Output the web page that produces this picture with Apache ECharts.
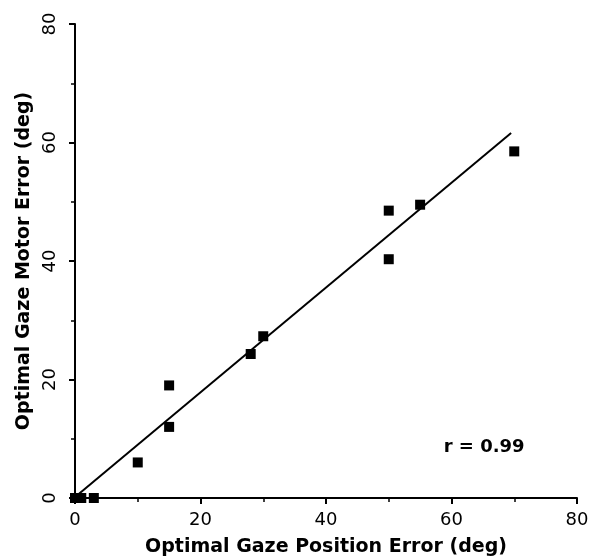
<!DOCTYPE html>
<html>
<head>
<meta charset="utf-8">
<script src="https://cdn.jsdelivr.net/npm/echarts@6/dist/echarts.min.js"></script>
<style>
  html, body { margin: 0; padding: 0; background: #fff; }
  #chart { width: 592px; height: 557px; }
</style>
</head>
<body>
<div id="chart"></div>
<script>
// Optimal gaze position error vs optimal gaze motor error (degrees)
const positionError = [0, 1, 3, 10, 15, 15, 28, 30, 50, 50, 55, 70];
const motorError    = [0, 0, 0, 6, 19, 12, 24.3, 27.3, 48.5, 40.3, 49.5, 58.5];

// Fitted regression line endpoints
const fitX = [0.5, 69.5];
const fitY = [0.6, 61.6];

const xTicks = [0, 20, 40, 60, 80];
const yTicks = [0, 20, 40, 60, 80];
const rLabel = 'r = 0.99';
const rLabelAt = [65.2, 8.5];

const xTitle = 'Optimal Gaze Position Error (deg)';
const yTitle = 'Optimal Gaze Motor Error (deg)';

const FONT = 'DejaVu Sans';

const points = positionError.map((x, i) => [x, motorError[i]]);
const fitLine = fitX.map((x, i) => [x, fitY[i]]);

const axisCommon = {
  type: 'value',
  min: 0,
  max: 80,
  interval: 20,
  splitLine: { show: false },
  axisLine: { show: true, onZero: false, lineStyle: { color: '#000', width: 2 } },
  axisTick: { show: true, inside: false, length: 6, lineStyle: { color: '#000', width: 2 } },
  minorTick: { show: true, splitNumber: 2, length: 4, lineStyle: { color: '#000', width: 1.5 } },
  minorSplitLine: { show: false },
  nameLocation: 'middle',
  nameTextStyle: { fontFamily: FONT, fontWeight: 'bold', fontSize: 19, color: '#000' }
};

const chart = echarts.init(document.getElementById('chart'), null, { renderer: 'canvas' });
chart.setOption({
  animation: false,
  backgroundColor: '#fff',
  grid: { left: 75, right: 15, top: 24, bottom: 59, containLabel: false, outerBoundsMode: 'none' },
  xAxis: Object.assign({}, axisCommon, {
    name: xTitle,
    nameGap: 40,
    axisLabel: {
      margin: 13,
      fontFamily: FONT, fontSize: 18, color: '#000',
      formatter: v => (xTicks.includes(v) ? String(v) : '')
    }
  }),
  yAxis: Object.assign({}, axisCommon, {
    name: yTitle,
    nameGap: 41,
    axisLabel: {
      margin: 16,
      rotate: 90,
      fontFamily: FONT, fontSize: 18, color: '#000',
      formatter: v => (yTicks.includes(v) ? String(v) : '')
    }
  }),
  series: [
    {
      type: 'line',
      data: fitLine,
      symbol: 'none',
      lineStyle: { color: '#000', width: 2 },
      z: 2,
      markPoint: {
        symbol: 'rect',
        symbolSize: 0,
        data: [{
          coord: rLabelAt,
          label: {
            show: true,
            formatter: rLabel,
            fontFamily: FONT, fontWeight: 'bold', fontSize: 18, color: '#000',
            position: 'inside'
          }
        }]
      }
    },
    {
      type: 'scatter',
      data: points,
      symbol: 'rect',
      symbolSize: 10,
      itemStyle: { color: '#000', opacity: 1 },
      z: 3
    }
  ]
});
</script>
</body>
</html>
